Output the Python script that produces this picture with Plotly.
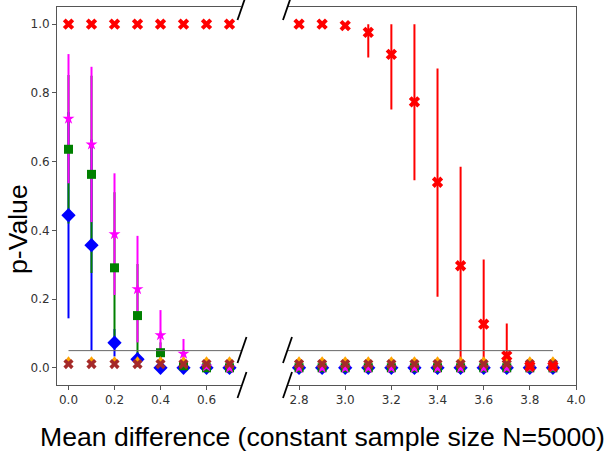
import plotly.graph_objects as go

# ---- data ----
x_left = [0.0, 0.1, 0.2, 0.3, 0.4, 0.5, 0.6, 0.7]
x_right = [2.8, 2.9, 3.0, 3.1, 3.2, 3.3, 3.4, 3.5, 3.6, 3.7, 3.8, 3.9]

blue_y = [0.444, 0.357, 0.073, 0.025, 0.0, 0.0, 0.0, 0.0] + [0.0] * 12
blue_err = [0.30, 0.307, 0.04, 0.02, 0.0, 0.0, 0.0, 0.0] + [0.0] * 12

green_y = [0.636, 0.563, 0.291, 0.152, 0.044, 0.006, 0.0, 0.0] + [0.0] * 12
green_err = [0.216, 0.287, 0.22, 0.15, 0.03, 0.006, 0.0, 0.0] + [0.0] * 12

magenta_y = [0.725, 0.650, 0.389, 0.229, 0.095, 0.041, 0.004, 0.0] + [0.0] * 12
magenta_err = [0.188, 0.226, 0.177, 0.155, 0.073, 0.043, 0.006, 0.0] + [0.0] * 12

orange_y = [0.022] * 20
brown_y = [0.011] * 20

red_y = [1.0] * 8 + [1.0, 1.0, 0.996, 0.976, 0.912, 0.774, 0.540, 0.297, 0.127, 0.035, 0.004, 0.004]
red_err_plus = [0.0] * 8 + [0.0, 0.0, 0.004, 0.024, 0.088, 0.226, 0.331, 0.288, 0.188, 0.094, 0.0, 0.0]
red_err_minus = [0.0] * 8 + [0.0, 0.0, 0.004, 0.073, 0.160, 0.228, 0.333, 0.297, 0.127, 0.035, 0.0, 0.0]

threshold = 0.05
y_ticks = [0.0, 0.2, 0.4, 0.6, 0.8, 1.0]
x_ticks_left = [0.0, 0.2, 0.4, 0.6]
x_ticks_right = [2.8, 3.0, 3.2, 3.4, 3.6, 3.8, 4.0]

# ---- layout geometry (pixels) ----
W, H = 607, 454
L, R, T, B = 57, 31, 7, 69
PW, PH = W - L - R, H - T - B
left_px_end = 241
right_px_start = 287.5


def px(xp):
    return (xp - L) / PW


def py(yp):
    return (H - B - yp) / PH


fig = go.Figure()

series = [
    dict(y=blue_y, ep=blue_err, em=blue_err, color="#0000ff", symbol="diamond", size=11),
    dict(y=green_y, ep=green_err, em=green_err, color="#008000", symbol="square", size=9),
    dict(y=magenta_y, ep=magenta_err, em=magenta_err, color="#ff00ff", symbol="star", size=9),
    dict(y=orange_y, ep=None, em=None, color="#ffa500", symbol="triangle-up", size=8),
    dict(y=brown_y, ep=None, em=None, color="#a52a2a", symbol="x", size=9),
    dict(y=red_y, ep=red_err_plus, em=red_err_minus, color="#ff0000", symbol="x", size=10),
]

n_left = len(x_left)
panels = [(x_left, slice(0, n_left), "x", "y"), (x_right, slice(n_left, None), "x2", "y2")]

# error bars first (drawn beneath all markers)
for s in series:
    if s["ep"] is None:
        continue
    for xs, sl, xa, ya in panels:
        fig.add_trace(go.Scatter(
            x=xs, y=s["y"][sl], mode="markers", xaxis=xa, yaxis=ya,
            marker=dict(size=1, color="rgba(0,0,0,0)"),
            error_y=dict(type="data", symmetric=False, array=s["ep"][sl],
                         arrayminus=s["em"][sl], color=s["color"], thickness=2, width=0),
            showlegend=False, hoverinfo="skip"))

# markers on top
for s in series:
    for xs, sl, xa, ya in panels:
        fig.add_trace(go.Scatter(
            x=xs, y=s["y"][sl], mode="markers", xaxis=xa, yaxis=ya,
            marker=dict(symbol=s["symbol"], size=s["size"], color=s["color"],
                        line=dict(width=0)),
            showlegend=False, hoverinfo="skip"))

# threshold lines
fig.add_shape(type="line", xref="x", yref="y", x0=0.0, x1=0.75, y0=threshold, y1=threshold,
              line=dict(color="#666666", width=1))
fig.add_shape(type="line", xref="x2", yref="y2", x0=2.75, x1=3.9, y0=threshold, y1=threshold,
              line=dict(color="#666666", width=1))

# break marks
for yc in [7, 350, 385]:
    for xc in [242, 287.5]:
        fig.add_shape(type="line", xref="paper", yref="paper",
                      x0=px(xc - 4.5), x1=px(xc + 4.5), y0=py(yc + 13), y1=py(yc - 13),
                      line=dict(color="black", width=1.8))

tickfont = dict(family="DejaVu Sans", size=12, color="#333333")
axis_common = dict(showgrid=False, zeroline=False, showline=True, linecolor="#555555",
                   linewidth=1, ticks="outside", ticklen=4, tickcolor="#555555",
                   tickfont=tickfont)

fig.update_layout(
    width=W, height=H,
    margin=dict(l=L, r=R, t=T, b=B, pad=0),
    paper_bgcolor="white", plot_bgcolor="white",
    xaxis=dict(domain=[0, px(left_px_end)], range=[-0.05, 0.75], tickvals=x_ticks_left,
               ticktext=[f"{v:.1f}" for v in x_ticks_left], mirror=True, anchor="y",
               **axis_common),
    xaxis2=dict(domain=[px(right_px_start), 1], range=[2.75, 4.0], tickvals=x_ticks_right,
                ticktext=[f"{v:.1f}" for v in x_ticks_right], mirror=True, anchor="y2",
                **axis_common),
    yaxis=dict(range=[-0.05, 1.05], tickvals=y_ticks, ticktext=[f"{v:.1f}" for v in y_ticks],
               anchor="x", **axis_common),
    yaxis2=dict(range=[-0.05, 1.05], anchor="x2", side="right", showgrid=False,
                zeroline=False, showline=True, linecolor="#555555", linewidth=1,
                showticklabels=False, ticks=""),
    annotations=[
        dict(text="p-Value", xref="paper", yref="paper", x=px(18), y=py(229),
             showarrow=False, textangle=-90, xanchor="center", yanchor="middle",
             font=dict(family="Liberation Sans", size=26.6, color="black")),
        dict(text="Mean difference (constant sample size N=5000)", xref="paper", yref="paper",
             x=px(322), y=py(437), showarrow=False, xanchor="center", yanchor="middle",
             font=dict(family="Liberation Sans", size=26.6, color="black")),
    ],
)

fig.write_html("out.html")
